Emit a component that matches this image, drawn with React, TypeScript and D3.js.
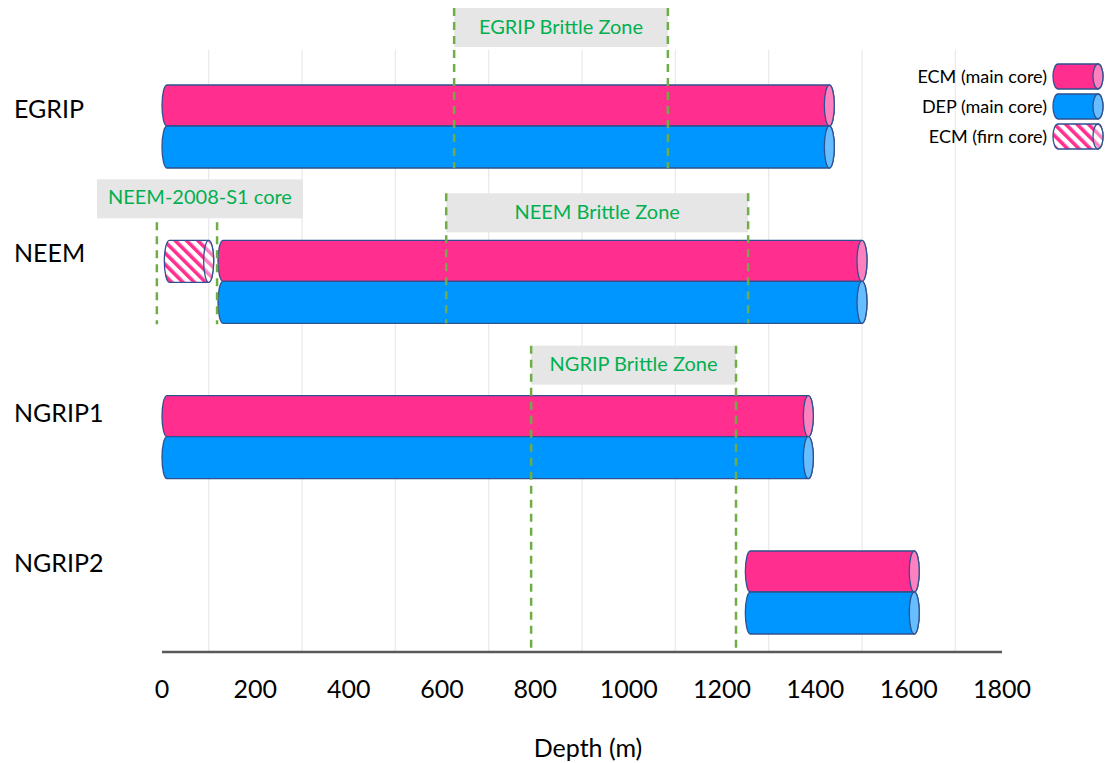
import { useMemo } from 'react';
import * as d3 from 'd3';

// cores on the y axis, top to bottom
const cores = ['EGRIP', 'NEEM', 'NGRIP1', 'NGRIP2'];
// depth ranges (m) of the measured sections
const ecmMain: [number, number][] = [[0, 1430], [120, 1500], [0, 1385], [1250, 1612]];
const depMain: [number, number][] = [[0, 1430], [120, 1500], [0, 1385], [1250, 1612]];
const ecmFirn: ([number, number] | null)[] = [null, [5, 100], null, null];

const depthTicks = [0, 200, 400, 600, 800, 1000, 1200, 1400, 1600, 1800];
const gridDepths = [100, 300, 500, 700, 900, 1100, 1300, 1500, 1700];

const zoneLabels = ['EGRIP Brittle Zone', 'NEEM Brittle Zone', 'NGRIP Brittle Zone'];
const zoneDepths: [number, number][] = [[626, 1084], [609, 1256], [791, 1230]];
const zoneCore = ['EGRIP', 'NEEM', 'NGRIP1'];

const firnLabel = 'NEEM-2008-S1 core';
const firnZone: [number, number] = [-11, 118];

const legendLabels = ['ECM (main core)', 'DEP (main core)', 'ECM (firn core)'];

const W = 1107;
const H = 763;
const PINK = '#FF2E8F';
const PINK_END = '#FF80BF';
const BLUE = '#0096FF';
const BLUE_END = '#66BDFF';
const EDGE = '#2F528F';
const GREEN = '#00B050';
const DASH = '#70AD47';
const FONT = 'Lato, "Open Sans", sans-serif';

const barH = 41;
const rx = 5;

function cylinder(x0: number, x1: number, top: number, h: number) {
  const b = top + h;
  return `M${x0 + rx},${top}H${x1}A${rx},${h / 2} 0 0 1 ${x1},${b}H${x0 + rx}A${rx},${h / 2} 0 0 1 ${x0 + rx},${top}Z`;
}

const Cyl = ({ x0, x1, top, h, fill, end }: { x0: number; x1: number; top: number; h: number; fill: string; end: string }) => (
  <g>
    <path d={cylinder(x0, x1, top, h)} fill={fill} stroke={EDGE} strokeWidth={1.3} />
    <ellipse cx={x1} cy={top + h / 2} rx={rx} ry={h / 2} fill={end} stroke={EDGE} strokeWidth={1.3} />
  </g>
);

export default function App() {
  const x = useMemo(() => d3.scaleLinear().domain([0, 1800]).range([162, 1002]), []);
  const y = useMemo(() => d3.scalePoint<string>().domain(cores).range([126, 592]), []);
  const axisY = 652;

  // box top offset of each brittle-zone label relative to its core row
  const zoneBoxOffset = [-118, -88, -91];
  const labelOffset = [-8, -19, -15, -20];
  const boxH = 39;

  return (
    <svg width={W} height={H} style={{ position: 'absolute', left: 0, top: 0, background: '#fff' }} fontFamily={FONT}>
      <defs>
        <pattern id="hatch" patternUnits="userSpaceOnUse" width={8} height={8} patternTransform="rotate(-45)">
          <rect width={8} height={8} fill="#fff" />
          <rect width={3.6} height={8} fill={PINK} />
        </pattern>
        <pattern id="hatchLight" patternUnits="userSpaceOnUse" width={8} height={8} patternTransform="rotate(-45)">
          <rect width={8} height={8} fill="#fff" />
          <rect width={3.6} height={8} fill={PINK_END} />
        </pattern>
      </defs>

      {gridDepths.map((d) => (
        <line key={d} x1={x(d)} x2={x(d)} y1={50} y2={axisY} stroke="#E9E9E9" strokeWidth={1.2} />
      ))}

      {cores.map((c, i) => {
        const cy = y(c)!;
        const e = ecmMain[i];
        const dp = depMain[i];
        const f = ecmFirn[i];
        return (
          <g key={c}>
            <text x={14} y={cy + labelOffset[i]} fontSize={25} fill="#000">{c}</text>
            <Cyl x0={x(e[0])} x1={x(e[1])} top={cy - barH} h={barH} fill={PINK} end={PINK_END} />
            <Cyl x0={x(dp[0])} x1={x(dp[1])} top={cy} h={barH + 1} fill={BLUE} end={BLUE_END} />
            {f && <Cyl x0={x(f[0])} x1={x(f[1])} top={cy - barH} h={barH + 1} fill="url(#hatch)" end="url(#hatchLight)" />}
          </g>
        );
      })}

      {/* NEEM firn core annotation */}
      {(() => {
        const cy = y('NEEM')!;
        const cx = (x(firnZone[0]) + x(firnZone[1])) / 2 + 13;
        return (
          <g>
            <rect x={cx - 103} y={cy - 102} width={206} height={boxH} fill="#E7E6E6" />
            <text x={cx} y={cy - 82} fontSize={20} fill={GREEN} textAnchor="middle" dominantBaseline="middle">{firnLabel}</text>
            {firnZone.map((d) => (
              <line key={d} x1={x(d)} x2={x(d)} y1={cy - 59} y2={cy + 43} stroke={DASH} strokeWidth={2.5} strokeDasharray="8 6" />
            ))}
          </g>
        );
      })()}

      {/* brittle zones */}
      {zoneLabels.map((lab, i) => {
        const cy = y(zoneCore[i])!;
        const top = cy + zoneBoxOffset[i];
        const [a, b] = zoneDepths[i];
        const bottom = i === 2 ? axisY : cy + barH + 1;
        return (
          <g key={lab}>
            <rect x={x(a)} y={top} width={x(b) - x(a)} height={boxH} fill="#E7E6E6" />
            <text x={(x(a) + x(b)) / 2} y={top + boxH / 2 + 1} fontSize={20} fill={GREEN} textAnchor="middle" dominantBaseline="middle">{lab}</text>
            {[a, b].map((d) => (
              <line key={d} x1={x(d)} x2={x(d)} y1={top} y2={bottom} stroke={DASH} strokeWidth={2.5} strokeDasharray="8 6" />
            ))}
          </g>
        );
      })}

      {/* axis */}
      <line x1={x(0)} x2={x(1800)} y1={axisY} y2={axisY} stroke="#595959" strokeWidth={2.5} />
      {depthTicks.map((t) => (
        <text key={t} x={x(t)} y={698} fontSize={25} textAnchor="middle" fill="#000">{t}</text>
      ))}
      <text x={588} y={757} fontSize={25} textAnchor="middle" fill="#000">Depth (m)</text>

      {/* legend */}
      {legendLabels.map((lab, i) => {
        const top = 64 + i * 30;
        const fills = [
          [PINK, PINK_END],
          [BLUE, BLUE_END],
          ['url(#hatch)', 'url(#hatchLight)'],
        ][i];
        return (
          <g key={lab}>
            <text x={1047} y={top + 19} fontSize={18} textAnchor="end" fill="#000">{lab}</text>
            <Cyl x0={1053} x1={1098} top={top} h={25} fill={fills[0]} end={fills[1]} />
          </g>
        );
      })}
    </svg>
  );
}
